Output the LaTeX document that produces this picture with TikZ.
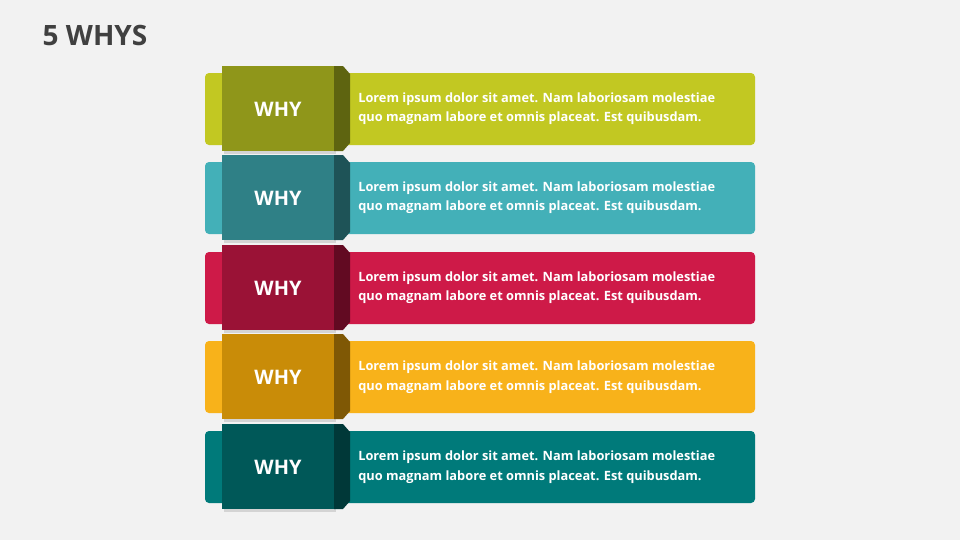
\documentclass[tikz,border=0pt]{standalone}
\usepackage{fontspec}
\setmainfont{Open Sans}
\usetikzlibrary{positioning}
\definecolor{bg}{HTML}{F2F2F2}
\definecolor{titlegray}{HTML}{404040}
\definecolor{limeA}{HTML}{C2C822}\definecolor{limeB}{HTML}{8F961A}\definecolor{limeC}{HTML}{5E6410}
\definecolor{tealA}{HTML}{43B0B8}\definecolor{tealB}{HTML}{2F8086}\definecolor{tealC}{HTML}{1E5357}
\definecolor{redA}{HTML}{CE1A48}\definecolor{redB}{HTML}{9A1236}\definecolor{redC}{HTML}{620A22}
\definecolor{ambA}{HTML}{F8B21A}\definecolor{ambB}{HTML}{C98C08}\definecolor{ambC}{HTML}{7F5805}
\definecolor{grnA}{HTML}{007A7A}\definecolor{grnB}{HTML}{005858}\definecolor{grnC}{HTML}{003838}
\begin{document}
\begin{tikzpicture}[
    x=0.75pt, y=-0.75pt,
    bar/.style={rounded corners=3pt},
    tag/.style={minimum width=84pt, minimum height=63.75pt, inner sep=0pt,
      text=white, font=\bfseries\fontsize{15}{18}\selectfont},
    body/.style={anchor=west, align=left, text=white, inner sep=0pt,
      font=\bfseries\fontsize{9.6}{14.5}\selectfont}
  ]
  \fill[bg] (0,0) rectangle (960,540);
  \node (title) [anchor=west, text=titlegray, font=\bfseries\fontsize{21}{24}\selectfont] at (38,35) {5 WHYS};

  % rows of the ladder
  \foreach \i/\cy/\ca/\cb/\cc in {1/109/limeA/limeB/limeC, 2/198/tealA/tealB/tealC,
      3/288/redA/redB/redC, 4/377/ambA/ambB/ambC, 5/467/grnA/grnB/grnC} {
    \fill[\ca, bar] (205,\cy-36) rectangle (755,\cy+36);
    \fill[black, opacity=0.12] (224,\cy-41) rectangle (336,\cy+45);
    \fill[\cc] (334,\cy-43) -- (343,\cy-43) -- (350,\cy-35) -- (350,\cy+34)
      -- (343,\cy+42) -- (334,\cy+42) -- cycle;
    \fill[\cb] (222,\cy-43) rectangle (334,\cy+42);
    \node (why\i) [tag] at (278,\cy) {WHY};
    \node (txt\i) [body] at (358,\cy) {Lorem ipsum dolor sit amet. Nam laboriosam molestiae\\
                                       quo magnam labore et omnis placeat. Est quibusdam.};
  }
\end{tikzpicture}
\end{document}
